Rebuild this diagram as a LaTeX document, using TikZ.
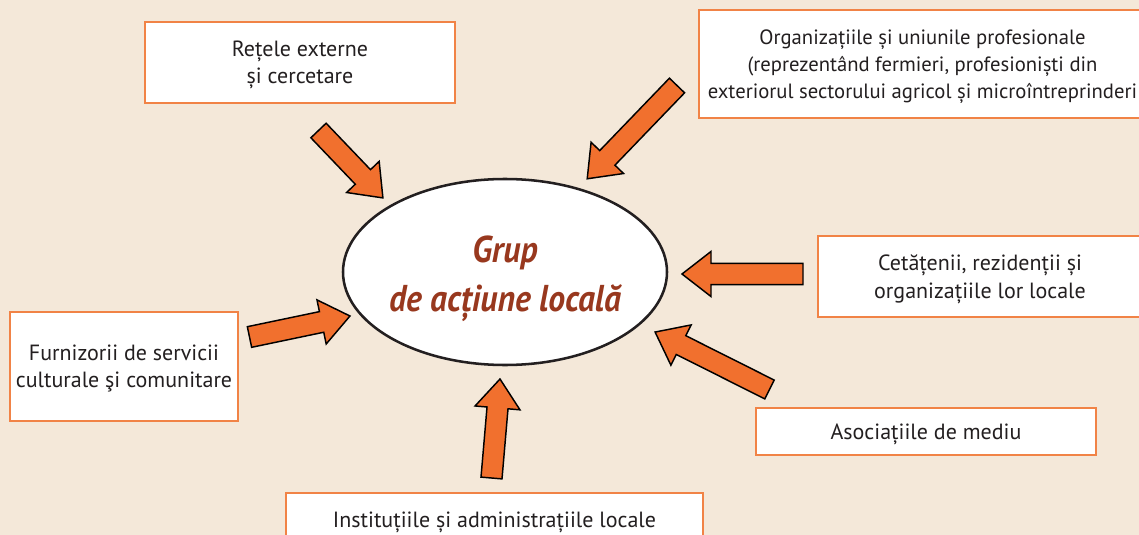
\documentclass[tikz,border=0pt]{standalone}
\usepackage{fontspec}
\setmainfont{PT Sans}
\newfontfamily\titlefont[FakeStretch=0.9]{PT Sans}
\usepackage{tikz}
\usetikzlibrary{calc,shapes.geometric}
\definecolor{cbg}{RGB}{244,232,217}
\definecolor{cframe}{RGB}{241,131,70}
\definecolor{carrow}{RGB}{241,112,46}
\definecolor{ctitle}{RGB}{152,56,30}
\definecolor{ctext}{RGB}{35,31,32}

\newcommand{\fatarrow}[2]{%
  \draw[fat arrow] let \p1=($(#2)-(#1)$), \n1={atan2(\y1,\x1)}, \n2={veclen(\x1,\y1)} in
    [shift={(#1)}, rotate=\n1]
    (0pt,-7.9pt) -- ({\n2-21.75pt},-7.9pt) -- ({\n2-21.75pt},-16.9pt) -- (\n2,0pt)
    -- ({\n2-21.75pt},16.9pt) -- ({\n2-21.75pt},7.9pt) -- (0pt,7.9pt) -- cycle;}

\begin{document}
\begin{tikzpicture}[x=0.75pt,y=-0.75pt,
  group node/.style={ellipse,draw=ctext,fill=white,line width=1.9pt,inner sep=0pt,
    inner xsep=-2pt,
    minimum width=243pt,minimum height=139.5pt,text=ctitle,align=center,
    font=\titlefont\bfseries\itshape\fontsize{28}{37}\selectfont},
  actor node/.style={rectangle,draw=cframe,fill=white,line width=1pt,inner sep=0pt,
    text depth=-4.5pt,align=center,text=ctext,font=\fontsize{16.5}{20.5}\selectfont},
  fat arrow/.style={draw=black,fill=carrow,line width=1.1pt,line join=miter}]
  \useasboundingbox (0,0) rectangle (1139,535);
  \clip (0,0) rectangle (1139,535);
  \fill[cbg] (0,0) rectangle (1139,535);

  \node[group node] (0) at (505,272) {\rule{0pt}{30pt}Grup\\de acțiune locală};

  \node[actor node,minimum width=232.5pt,minimum height=60.75pt] (1) at (300,62.5)
    {Rețele externe\\și cercetare};
  \node[actor node,minimum width=335.25pt,minimum height=81pt,
    font=\fontsize{15.5}{20}\selectfont] (2) at (922.5,64)
    {Organizațiile și uniunile profesionale\\(reprezentând fermieri, profesioniști din\\exteriorul sectorului agricol și microîntreprinderi};
  \node[actor node,minimum width=243pt,minimum height=60.75pt] (3) at (980,276.5)
    {Cetățenii, rezidenții și\\organizațiile lor locale};
  \node[actor node,minimum width=255pt,minimum height=35.25pt] (4) at (926,431.5)
    {Asociațiile de mediu};
  \node[actor node,minimum width=312.75pt,minimum height=40.5pt] (5) at (494.5,520)
    {Instituțiile și administrațiile locale};
  \node[actor node,minimum width=171pt,minimum height=81.75pt] (6) at (124,366.5)
    {Furnizorii de servicii\\culturale şi comunitare};

  % arrow ends
  \coordinate (t1) at (318.5,130.5); \coordinate (h1) at (383,198);
  \coordinate (t2) at (677,85.5);    \coordinate (h2) at (587,179);
  \coordinate (t3) at (803,274);     \coordinate (h3) at (682,274);
  \coordinate (t4) at (769.5,389.5); \coordinate (h4) at (655,332);
  \coordinate (t5) at (491.5,478);   \coordinate (h5) at (500,379);
  \coordinate (t6) at (249.5,337);   \coordinate (h6) at (350,316);

  \fatarrow{t1}{h1}
  \fatarrow{t2}{h2}
  \fatarrow{t3}{h3}
  \fatarrow{t4}{h4}
  \fatarrow{t5}{h5}
  \fatarrow{t6}{h6}
\end{tikzpicture}
\end{document}
